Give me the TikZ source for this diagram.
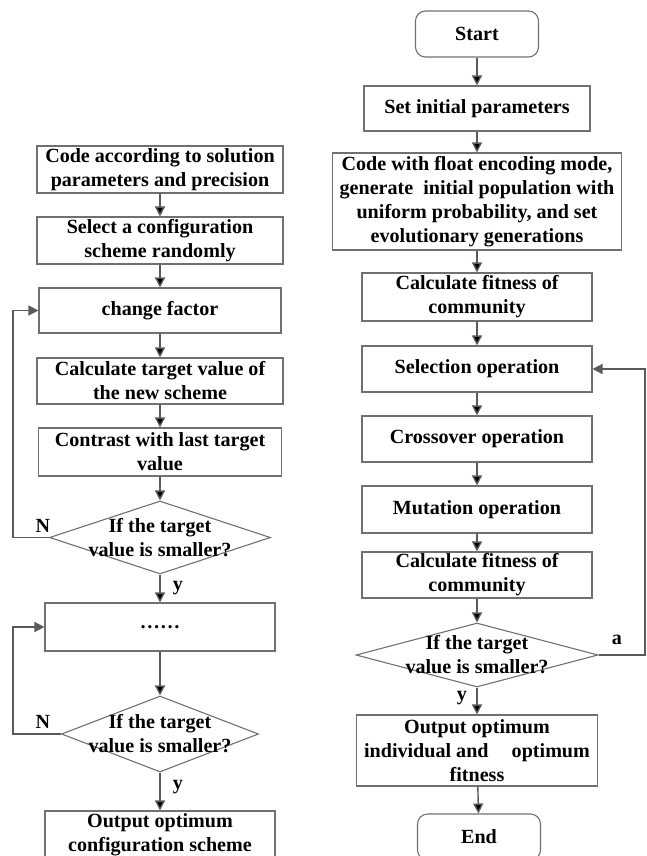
\documentclass[tikz,border=0pt]{standalone}
\usepackage{fontspec}
\setmainfont{Liberation Serif}
\usetikzlibrary{arrows.meta, shapes.geometric, positioning}

\definecolor{linegray}{HTML}{5A5A5A}
\definecolor{boxgray}{HTML}{707070}

\tikzset{
    box/.style={draw=boxgray, line width=1.1pt, inner sep=0pt, align=center},
    terminal/.style={box, rounded corners=10pt},
    decision/.style={diamond, draw=boxgray, line width=1.1pt, inner sep=0pt},
    flow/.style={draw=linegray, line width=1.4pt,
                 -{Triangle[length=10pt, width=10pt]}},
}

\begin{document}
\begin{tikzpicture}[x=1pt, y=-1pt, font=\fontsize{20.1}{24}\selectfont\bfseries]

        \useasboundingbox (0, 0) rectangle (646, 856);

        % Draw the left column
        \node[box, minimum width=246, minimum height=47] at (160, 169.5) (coding)   {Code according to solution\\parameters and precision};
        \node[box, minimum width=246, minimum height=47] at (160, 240.5) (select)   {Select a configuration\\scheme randomly};
        \node[box, minimum width=242, minimum height=45] at (160, 310.5) (factor)   {change factor};
        \node[box, minimum width=246, minimum height=46] at (160, 381)   (target)   {Calculate target value of\\the new scheme};
        \node[box, minimum width=243, minimum height=48] at (160, 452)   (contrast) {Contrast with last target\\value};
        \node[decision, minimum width=221, minimum height=73] at (160, 537.5) (testa) {};
        \node[align=center] at (testa.center) (testatext) {If the target\\value is smaller?};
        \node[box, minimum width=230, minimum height=48] at (160, 627)   (dots)     {……};
        \node[decision, minimum width=197, minimum height=76] at (160, 734) (testb) {};
        \node[align=center] at (testb.center) (testbtext) {If the target\\value is smaller?};
        \node[box, minimum width=230, minimum height=48] at (160, 835)   (config)   {Output optimum\\configuration scheme};

        % Draw the right column
        \node[terminal, minimum width=123, minimum height=46] at (477, 34)    (start)    {Start};
        \node[box, minimum width=226, minimum height=45] at (477, 108.5) (params)   {Set initial parameters};
        \node[box, minimum width=289, minimum height=97] at (477, 201.5) (float)    {Code with float encoding mode,\\generate\ \ initial population with\\uniform probability, and set\\evolutionary generations};
        \node[box, minimum width=230, minimum height=48] at (477, 297)   (fitnessa) {Calculate fitness of\\community};
        \node[box, minimum width=230, minimum height=46] at (477, 369)   (selection) {Selection operation};
        \node[box, minimum width=230, minimum height=46] at (477, 439)   (crossover) {Crossover operation};
        \node[box, minimum width=230, minimum height=47] at (477, 509.5) (mutation) {Mutation operation};
        \node[box, minimum width=230, minimum height=46] at (477, 575)   (fitnessb) {Calculate fitness of\\community};
        \node[decision, minimum width=242, minimum height=64] at (477, 655) (testc) {};
        \node[align=center] at (testc.center) (testctext) {If the target\\value is smaller?};
        \node[box, minimum width=241, minimum height=71] at (477, 750.5) (optimum)  {Output optimum\\individual and\hspace{0.9em} optimum\\fitness};
        \node[terminal, minimum width=123, minimum height=46] at (479, 837)  (finish)   {End};

        % Branch labels
        \node at (43, 526)  (na) {N};
        \node at (178, 588) (ya) {y};
        \node at (43, 722)  (nb) {N};
        \node at (178, 787) (yb) {y};
        \node at (462, 698) (yc) {y};
        \node at (617, 640) (ac) {a};

        \coordinate (lrail) at (13, 0);
        \coordinate (rrail) at (645, 0);

        % Connect the boxes with arrows
        \draw[flow]
            (coding)   edge (select)
            (select)   edge (factor)
            (factor)   edge (target)
            (target)   edge (contrast)
            (contrast) edge (testa)
            (testa)    edge (dots)
            (dots)     edge (testb)
            (testb)    edge (config)
            (start)    edge (params)
            (params)   edge (float)
            (float)    edge (fitnessa)
            (fitnessa) edge (selection)
            (selection) edge (crossover)
            (crossover) edge (mutation)
            (mutation) edge (fitnessb)
            (fitnessb) edge (testc)
            (testc)    edge (optimum)
            (optimum)  edge (finish);

        % Loops back
        \draw[flow] (testa.west) -- (testa.west -| lrail) |- (factor.west);
        \draw[flow] (testb.west) -- (testb.west -| lrail) |- (dots.west);
        \draw[flow] (testc.east) -- (testc.east -| rrail) |- (selection.east);
    \end{tikzpicture}
\end{document}
